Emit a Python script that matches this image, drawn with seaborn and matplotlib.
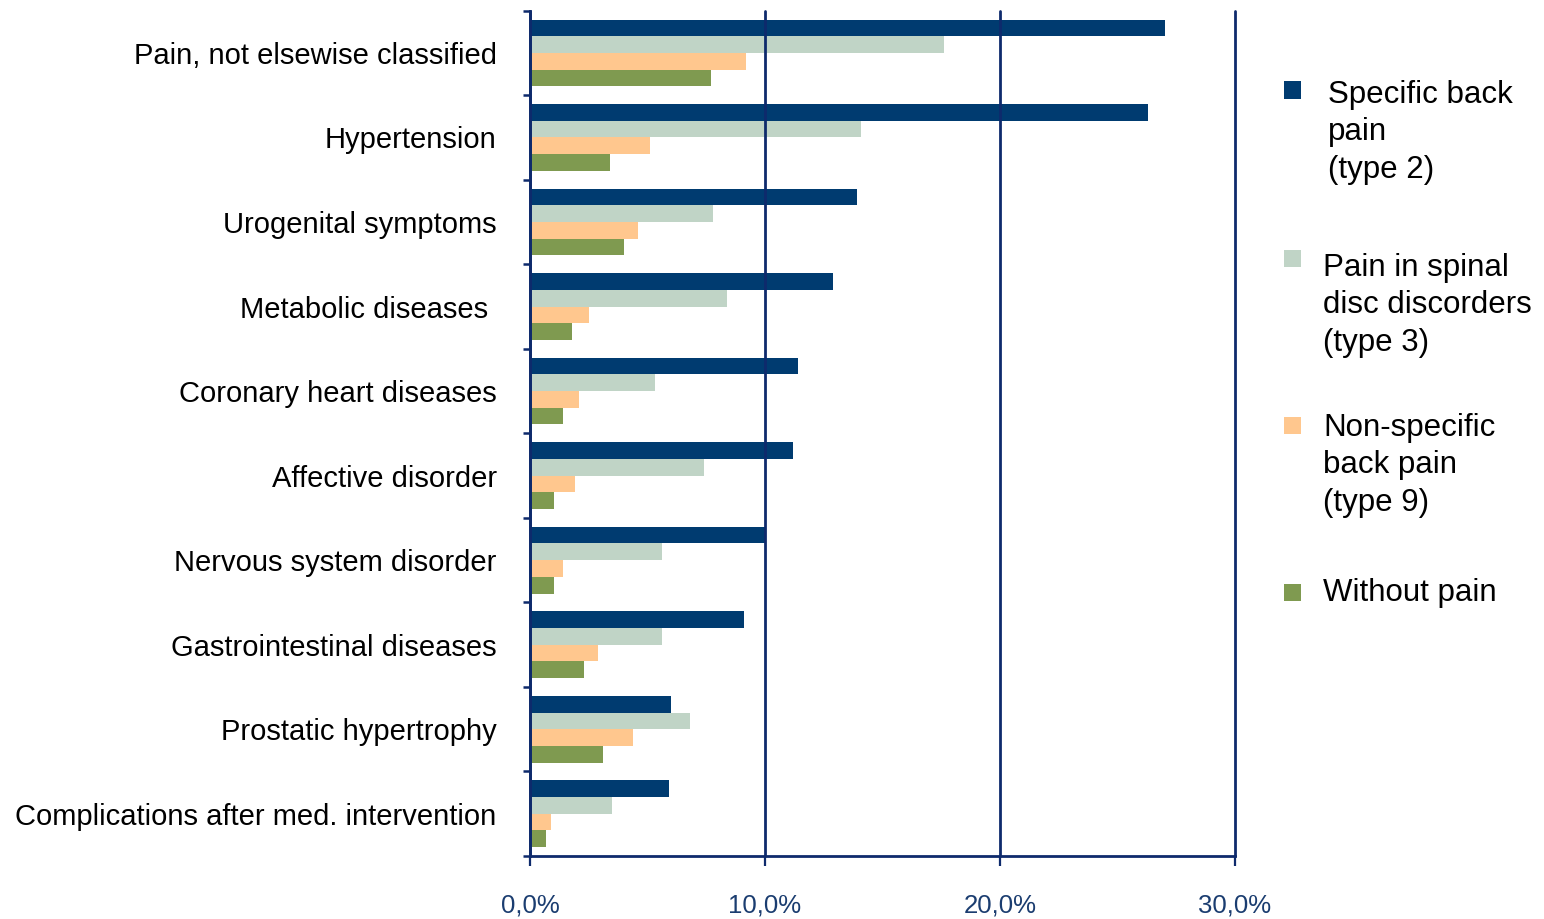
import numpy as np
import pandas as pd
import matplotlib
matplotlib.use("Agg")
import matplotlib.pyplot as plt
from matplotlib.patches import Rectangle
import seaborn as sns

# categories (top to bottom) and shares in percent per pain group
conditions = [
    "Pain, not elsewise classified",
    "Hypertension",
    "Urogenital symptoms",
    "Metabolic diseases ",
    "Coronary heart diseases",
    "Affective disorder",
    "Nervous system disorder",
    "Gastrointestinal diseases",
    "Prostatic hypertrophy",
    "Complications after med. intervention",
]
groups = [
    "Specific back\npain\n(type 2)",
    "Pain in spinal\ndisc discorders\n(type 3)",
    "Non-specific\nback pain\n(type 9)",
    "Without pain",
]
specific_back = [27.0, 26.3, 13.9, 12.9, 11.4, 11.2, 10.0, 9.1, 6.0, 5.9]
spinal_disc = [17.6, 14.1, 7.8, 8.4, 5.3, 7.4, 5.6, 5.6, 6.8, 3.5]
non_specific = [9.2, 5.1, 4.6, 2.5, 2.1, 1.9, 1.4, 2.9, 4.4, 0.9]
without_pain = [7.7, 3.4, 4.0, 1.8, 1.4, 1.0, 1.0, 2.3, 3.1, 0.7]
xticks = [0, 10, 20, 30]
xtick_labels = ["0,0%", "10,0%", "20,0%", "30,0%"]

colors = ["#003B70", "#C0D4C6", "#FFC78E", "#7F9A50"]
navy = "#0E2A6C"

df = pd.DataFrame({
    "condition": conditions * 4,
    "group": np.repeat(groups, len(conditions)),
    "share": specific_back + spinal_disc + non_specific + without_pain,
})

sns.set_style("white")
plt.rcParams["font.family"] = ["Liberation Sans", "DejaVu Sans"]

W, H = 1544, 919
fig = plt.figure(figsize=(W / 100, H / 100), dpi=100)
ax = fig.add_axes([530 / W, 1 - 856 / H, (1235 - 530) / W, (856 - 10.7) / H])

sns.barplot(data=df, y="condition", x="share", hue="group", hue_order=groups,
            order=conditions, palette=colors, orient="h", width=0.79,
            saturation=1, legend=False, linewidth=0, ax=ax)

ax.set_xlim(0, 30)
ax.set_ylim(9.5, -0.5)
ax.set_xlabel("")
ax.set_ylabel("")

# vertical gridlines drawn over the bars like the original
ax.set_axisbelow(False)
ax.xaxis.grid(True, color=navy, linewidth=2.0)
ax.yaxis.grid(False)
for gl in ax.get_xgridlines():
    gl.set_clip_on(False)

for side in ["top", "right"]:
    ax.spines[side].set_visible(False)
for side in ["left", "bottom"]:
    ax.spines[side].set_color(navy)
    ax.spines[side].set_linewidth(2.0)

ax.set_xticks(xticks)
ax.set_xticklabels(xtick_labels, fontsize=18.5, color="#1B3D70")
ax.tick_params(axis="x", length=7, width=1.6, color=navy, pad=20, bottom=True)

ax.tick_params(axis="y", which="major", length=0, pad=24, labelsize=21, labelcolor="black")
ax.set_yticks(np.arange(-0.5, len(conditions), 1), minor=True)
ax.tick_params(axis="y", which="minor", length=5, width=1.8, color=navy, left=True)

# legend drawn by hand so squares line up with the first text line
legend_rows = [(90, 86, 1328), (258, 259, 1323), (425, 419, 1323), (592, 584, 1323)]
for (sq_y, txt_y, txt_x), label, col in zip(legend_rows, groups, colors):
    fig.patches.append(Rectangle(((1284) / W, 1 - (sq_y + 8.5) / H), 17 / W, 17 / H,
                                 transform=fig.transFigure, facecolor=col,
                                 edgecolor="none"))
    fig.text(txt_x / W, 1 - (txt_y - 6) / H, label, fontsize=22.5, va="top",
             ha="left", linespacing=1.32, color="black")

fig.savefig("out.png", dpi=100)
